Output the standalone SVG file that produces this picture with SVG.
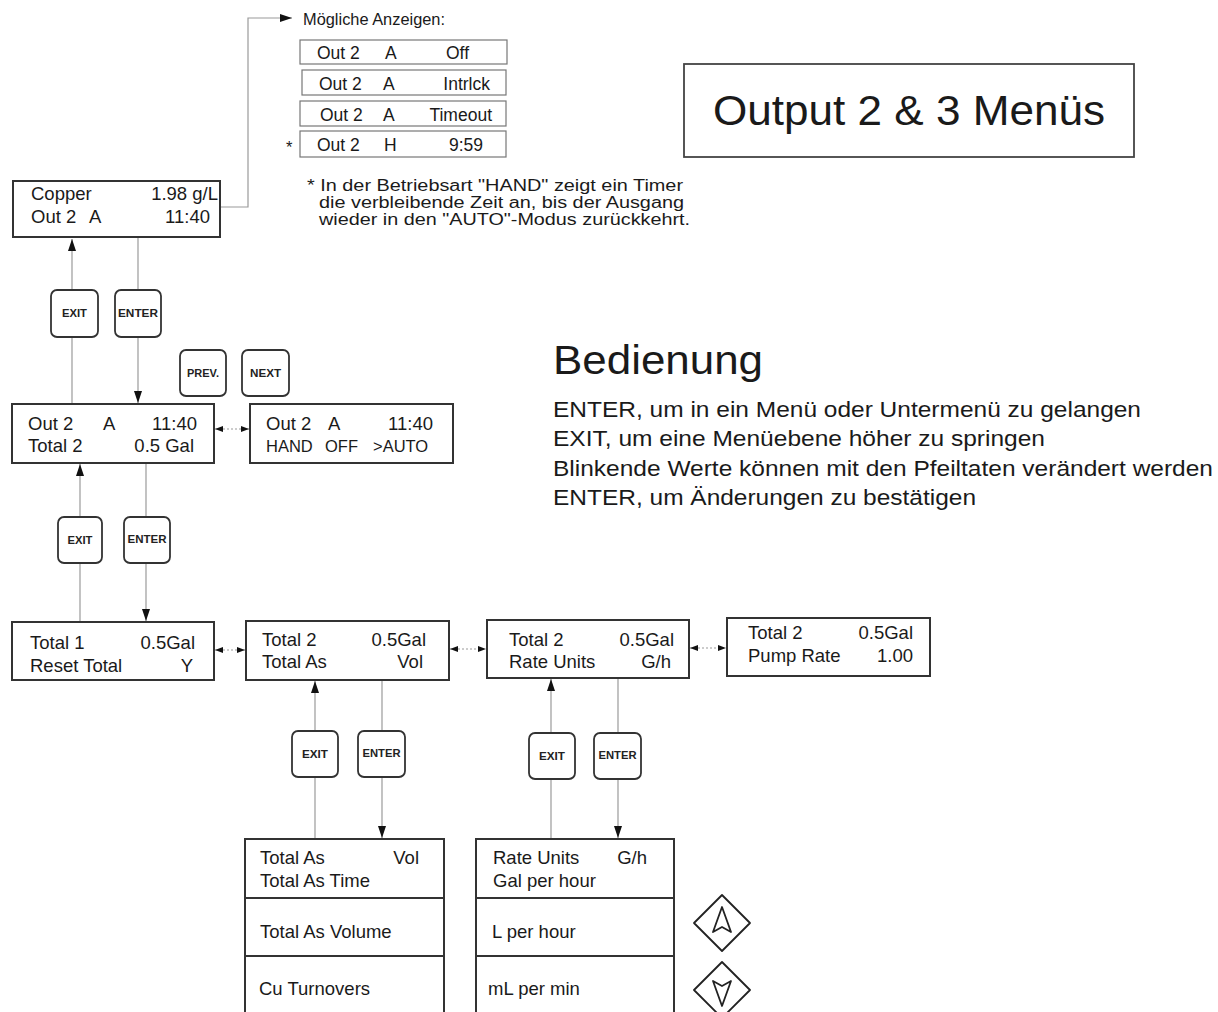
<svg xmlns="http://www.w3.org/2000/svg" width="1218" height="1012" viewBox="0 0 1218 1012">
<style>
text{font-family:"Liberation Sans",Arial,sans-serif;fill:#1a1a1a}
.t{font-size:18.5px}
.s{font-size:16.5px}
.p{font-size:17.5px}
.n{font-size:16px}
.e{text-anchor:end}
.box{fill:#fff;stroke:#333;stroke-width:2}
.pbox{fill:#fff;stroke:#777;stroke-width:1.2}
.btn{fill:#fff;stroke:#333;stroke-width:1.8}
.bt{font-size:10px;font-weight:bold;text-anchor:middle;fill:#222}
.ln{fill:none;stroke:#9a9a9a;stroke-width:1.2}
.dl{fill:none;stroke:#999;stroke-width:1.2;stroke-dasharray:2 2}
.dia{fill:#fff;stroke:#222;stroke-width:1.8;stroke-linejoin:round}
</style>
<defs>
<marker id="ah" viewBox="0 0 12 8" refX="12" refY="4" markerWidth="12" markerHeight="8" markerUnits="userSpaceOnUse" orient="auto-start-reverse"><path d="M0,0 L12,4 L0,8 z" fill="#111"/></marker>
<marker id="sa" viewBox="0 0 8 6" refX="8" refY="3" markerWidth="8" markerHeight="6" markerUnits="userSpaceOnUse" orient="auto-start-reverse"><path d="M0,0 L8,3 L0,6 z" fill="#111"/></marker>
</defs>

<g id="connectors">
<path class="ln" d="M220,207 H248 V18 H292" marker-end="url(#ah)"/>
<line class="ln" x1="72" y1="404" x2="72" y2="239" marker-end="url(#ah)"/>
<line class="ln" x1="138" y1="238" x2="138" y2="403" marker-end="url(#ah)"/>
<line class="dl" x1="215" y1="429" x2="249" y2="429" marker-start="url(#sa)" marker-end="url(#sa)"/>
<line class="ln" x1="80" y1="622" x2="80" y2="464" marker-end="url(#ah)"/>
<line class="ln" x1="146" y1="463" x2="146" y2="621" marker-end="url(#ah)"/>
<line class="dl" x1="215" y1="650" x2="245" y2="650" marker-start="url(#sa)" marker-end="url(#sa)"/>
<line class="dl" x1="450" y1="649" x2="486" y2="649" marker-start="url(#sa)" marker-end="url(#sa)"/>
<line class="dl" x1="690" y1="648" x2="726" y2="648" marker-start="url(#sa)" marker-end="url(#sa)"/>
<line class="ln" x1="315" y1="839" x2="315" y2="681" marker-end="url(#ah)"/>
<line class="ln" x1="382" y1="680" x2="382" y2="838" marker-end="url(#ah)"/>
<line class="ln" x1="551" y1="839" x2="551" y2="679" marker-end="url(#ah)"/>
<line class="ln" x1="618" y1="678" x2="618" y2="838" marker-end="url(#ah)"/>
</g>

<g id="title">
<rect x="684" y="64" width="450" height="93" fill="#fff" stroke="#444" stroke-width="1.8"/>
<text x="713" y="125" font-size="43" textLength="392" lengthAdjust="spacingAndGlyphs">Output 2 &amp; 3 Menüs</text>
</g>

<g id="possible">
<text x="303" y="25" class="n" textLength="142" lengthAdjust="spacingAndGlyphs">Mögliche Anzeigen:</text>
<rect class="pbox" x="300" y="40" width="207" height="24"/>
<text class="p" x="317" y="59">Out 2</text><text class="p" x="385" y="59">A</text><text class="p e" x="469" y="59">Off</text>
<rect class="pbox" x="302" y="70" width="204" height="25"/>
<text class="p" x="319" y="90">Out 2</text><text class="p" x="383" y="90">A</text><text class="p e" x="490" y="90">Intrlck</text>
<rect class="pbox" x="300" y="101" width="206" height="25"/>
<text class="p" x="320" y="121">Out 2</text><text class="p" x="383" y="121">A</text><text class="p e" x="492" y="121">Timeout</text>
<rect class="pbox" x="300" y="131" width="206" height="26"/>
<text class="p" x="317" y="151">Out 2</text><text class="p" x="384" y="151">H</text><text class="p e" x="483" y="151">9:59</text>
<text class="s" x="286" y="153">*</text>
</g>

<g id="note">
<text class="n" x="307" y="191" textLength="376" lengthAdjust="spacingAndGlyphs">* In der Betriebsart "HAND" zeigt ein Timer</text>
<text class="n" x="319" y="208" textLength="365" lengthAdjust="spacingAndGlyphs">die verbleibende Zeit an, bis der Ausgang</text>
<text class="n" x="319" y="225" textLength="371" lengthAdjust="spacingAndGlyphs">wieder in den "AUTO"-Modus zurückkehrt.</text>
</g>

<g id="bedienung">
<text x="553" y="374" font-size="41" textLength="210" lengthAdjust="spacingAndGlyphs">Bedienung</text>
<text x="553" y="417" font-size="22.5" textLength="588" lengthAdjust="spacingAndGlyphs">ENTER, um in ein Menü oder Untermenü zu gelangen</text>
<text x="553" y="446" font-size="22.5" textLength="492" lengthAdjust="spacingAndGlyphs">EXIT, um eine Menüebene höher zu springen</text>
<text x="553" y="476" font-size="22.5" textLength="660" lengthAdjust="spacingAndGlyphs">Blinkende Werte können mit den Pfeiltaten verändert werden</text>
<text x="553" y="505" font-size="22.5" textLength="423" lengthAdjust="spacingAndGlyphs">ENTER, um Änderungen zu bestätigen</text>
</g>

<g id="copper">
<rect class="box" x="13" y="181" width="207" height="56"/>
<text class="t" x="31" y="200">Copper</text><text class="t e" x="218" y="200">1.98 g/L</text>
<text class="t" x="31" y="223">Out 2</text><text class="t" x="89" y="223">A</text><text class="t e" x="210" y="223">11:40</text>
</g>

<g id="btn-exit-1"><rect class="btn" x="51" y="290" width="47" height="47" rx="6"/><text class="bt" x="74.5" y="317" textLength="25" lengthAdjust="spacingAndGlyphs">EXIT</text></g>
<g id="btn-enter-1"><rect class="btn" x="115" y="290" width="46" height="47" rx="6"/><text class="bt" x="138" y="317" textLength="40" lengthAdjust="spacingAndGlyphs">ENTER</text></g>
<g id="btn-prev"><rect class="btn" x="180" y="350" width="46" height="46" rx="6"/><text class="bt" x="203" y="377" textLength="32" lengthAdjust="spacingAndGlyphs">PREV.</text></g>
<g id="btn-next"><rect class="btn" x="242" y="350" width="47" height="46" rx="6"/><text class="bt" x="265.5" y="377" textLength="31" lengthAdjust="spacingAndGlyphs">NEXT</text></g>

<g id="out2">
<rect class="box" x="12" y="404" width="202" height="59"/>
<text class="t" x="28" y="430">Out 2</text><text class="t" x="103" y="430">A</text><text class="t e" x="197" y="430">11:40</text>
<text class="t" x="28" y="452">Total 2</text><text class="t e" x="194" y="452">0.5 Gal</text>
</g>

<g id="hand">
<rect class="box" x="250" y="404" width="203" height="59"/>
<text class="t" x="266" y="430">Out 2</text><text class="t" x="328" y="430">A</text><text class="t e" x="433" y="430">11:40</text>
<text class="s" x="266" y="452">HAND</text><text class="s" x="325" y="452">OFF</text><text class="s" x="373" y="452">&gt;AUTO</text>
</g>

<g id="btn-exit-2"><rect class="btn" x="58" y="517" width="44" height="46" rx="6"/><text class="bt" x="80" y="544" textLength="25" lengthAdjust="spacingAndGlyphs">EXIT</text></g>
<g id="btn-enter-2"><rect class="btn" x="124" y="517" width="46" height="46" rx="6"/><text class="bt" x="147" y="543" textLength="39" lengthAdjust="spacingAndGlyphs">ENTER</text></g>

<g id="total1">
<rect class="box" x="12" y="622" width="202" height="58"/>
<text class="t" x="30" y="649">Total 1</text><text class="t e" x="195" y="649">0.5Gal</text>
<text class="t" x="30" y="672">Reset Total</text><text class="t e" x="193" y="672">Y</text>
</g>

<g id="totalas">
<rect class="box" x="246" y="621" width="203" height="59"/>
<text class="t" x="262" y="646">Total 2</text><text class="t e" x="426" y="646">0.5Gal</text>
<text class="t" x="262" y="668">Total As</text><text class="t e" x="423" y="668">Vol</text>
</g>

<g id="rateunits">
<rect class="box" x="487" y="620" width="202" height="58"/>
<text class="t" x="509" y="646">Total 2</text><text class="t e" x="674" y="646">0.5Gal</text>
<text class="t" x="509" y="668">Rate Units</text><text class="t e" x="671" y="668">G/h</text>
</g>

<g id="pumprate">
<rect class="box" x="727" y="618" width="203" height="58"/>
<text class="t" x="748" y="639">Total 2</text><text class="t e" x="913" y="639">0.5Gal</text>
<text class="t" x="748" y="662">Pump Rate</text><text class="t e" x="913" y="662">1.00</text>
</g>

<g id="btn-exit-3"><rect class="btn" x="292" y="731" width="46" height="46" rx="6"/><text class="bt" x="315" y="758" textLength="26" lengthAdjust="spacingAndGlyphs">EXIT</text></g>
<g id="btn-enter-3"><rect class="btn" x="358" y="731" width="47" height="46" rx="6"/><text class="bt" x="381.5" y="757" textLength="38" lengthAdjust="spacingAndGlyphs">ENTER</text></g>
<g id="btn-exit-4"><rect class="btn" x="529" y="733" width="46" height="46" rx="6"/><text class="bt" x="552" y="760" textLength="26" lengthAdjust="spacingAndGlyphs">EXIT</text></g>
<g id="btn-enter-4"><rect class="btn" x="594" y="733" width="47" height="46" rx="6"/><text class="bt" x="617.5" y="759" textLength="38" lengthAdjust="spacingAndGlyphs">ENTER</text></g>

<g id="totalas-menu">
<rect class="box" x="245" y="839" width="199" height="59"/>
<text class="t" x="260" y="864">Total As</text><text class="t e" x="419" y="864">Vol</text>
<text class="t" x="260" y="887">Total As Time</text>
<rect class="box" x="245" y="898" width="199" height="58"/>
<text class="t" x="260" y="938">Total As Volume</text>
<rect class="box" x="245" y="956" width="199" height="64"/>
<text class="t" x="259" y="995">Cu Turnovers</text>
</g>

<g id="rate-menu">
<rect class="box" x="476" y="839" width="198" height="59"/>
<text class="t" x="493" y="864">Rate Units</text><text class="t e" x="647" y="864">G/h</text>
<text class="t" x="493" y="887">Gal per hour</text>
<rect class="box" x="476" y="898" width="198" height="58"/>
<text class="t" x="492" y="938">L per hour</text>
<rect class="box" x="476" y="956" width="198" height="64"/>
<text class="t" x="488" y="995">mL per min</text>
</g>

<g id="btn-up">
<path class="dia" d="M722,895 L750,923 L722,951 L694,923 Z"/>
<path class="dia" d="M722,907 L731,932 L722,927 L713,932 Z" fill="none"/>
</g>
<g id="btn-down">
<path class="dia" d="M722,962 L750,990 L722,1018 L694,990 Z"/>
<path class="dia" d="M722,1006 L731,981 L722,986 L713,981 Z" fill="none"/>
</g>
</svg>
